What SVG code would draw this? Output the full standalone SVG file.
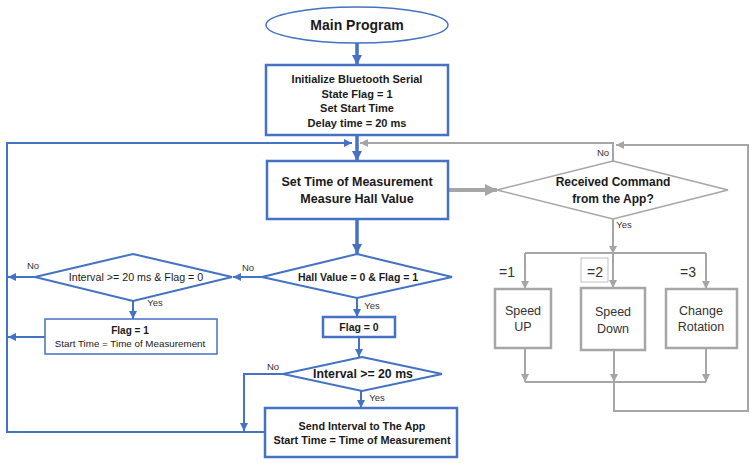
<svg xmlns="http://www.w3.org/2000/svg" width="750" height="463" viewBox="0 0 750 463">
<defs>
<marker id="bh" markerUnits="userSpaceOnUse" markerWidth="10" markerHeight="10" refX="10" refY="5" orient="auto"><path d="M0,0 L10,5 L0,10 z" fill="#4472C4"/></marker>
<marker id="bhs" markerUnits="userSpaceOnUse" markerWidth="8" markerHeight="8" refX="8" refY="4" orient="auto"><path d="M0,0 L8,4 L0,8 z" fill="#4472C4"/></marker>
<marker id="gh" markerUnits="userSpaceOnUse" markerWidth="8" markerHeight="8" refX="8" refY="4" orient="auto"><path d="M0,0 L8,4 L0,8 z" fill="#A6A6A6"/></marker>
<marker id="ghb" markerUnits="userSpaceOnUse" markerWidth="12" markerHeight="12" refX="12" refY="6" orient="auto"><path d="M0,0 L12,6 L0,12 z" fill="#A6A6A6"/></marker>
</defs>
<style>
text{font-family:"Liberation Sans",Arial,sans-serif;fill:#1a1a1a;text-anchor:middle}
.b{font-weight:bold}
.bn{fill:#fff;stroke:#4472C4;stroke-width:2.5}
.bt{fill:#fff;stroke:#4472C4;stroke-width:1.5}
.gn{fill:#fff;stroke:#A6A6A6;stroke-width:2.5}
.bl{fill:none;stroke:#4472C4;stroke-width:2}
.blt{fill:none;stroke:#4472C4;stroke-width:3.5}
.gl{fill:none;stroke:#A6A6A6;stroke-width:2}
.lbl{font-size:9.5px;fill:#333}
.gt{fill:#333}
</style>
<g id="connectors">
<line class="blt" x1="357" y1="43" x2="357" y2="65" marker-end="url(#bh)"/>
<line class="blt" x1="357" y1="135" x2="357" y2="161" marker-end="url(#bh)"/>
<line class="blt" x1="357" y1="219" x2="357" y2="254" marker-end="url(#bh)"/>
<line class="bl" x1="357" y1="298" x2="357" y2="317" marker-end="url(#bhs)"/>
<line class="bl" x1="359" y1="337" x2="359" y2="357" marker-end="url(#bhs)"/>
<line class="bl" x1="361" y1="391" x2="361" y2="408" marker-end="url(#bhs)"/>
<polyline class="bl" points="265,432 7,432 7,143 352,143" marker-end="url(#bhs)"/>
<line class="bl" x1="262" y1="277" x2="233" y2="277" marker-end="url(#bhs)"/>
<line class="bl" x1="36" y1="277" x2="8" y2="277" marker-end="url(#bhs)"/>
<line class="bl" x1="133" y1="301" x2="133" y2="319" marker-end="url(#bhs)"/>
<line class="bl" x1="45" y1="337" x2="8" y2="337" marker-end="url(#bhs)"/>
<polyline class="bl" points="283,374 244,374 244,431" marker-end="url(#bhs)"/>
<line x1="448" y1="190" x2="497" y2="190" stroke="#A6A6A6" stroke-width="4" marker-end="url(#ghb)"/>
<polyline class="gl" points="613,161 613,143 360,143" marker-end="url(#gh)"/>
<polyline class="gl" points="614,382 614,411 748,411 748,145 616,145" marker-end="url(#gh)"/>
<line class="gl" x1="613" y1="219" x2="613" y2="254" marker-end="url(#gh)"/>
<line class="gl" x1="525" y1="253" x2="706" y2="253"/>
<line class="gl" x1="525" y1="253" x2="525" y2="289" marker-end="url(#gh)"/>
<line class="gl" x1="613" y1="253" x2="613" y2="288" marker-end="url(#gh)"/>
<line class="gl" x1="706" y1="253" x2="706" y2="289" marker-end="url(#gh)"/>
<line class="gl" x1="525" y1="348" x2="525" y2="382" marker-end="url(#gh)"/>
<line class="gl" x1="614" y1="350" x2="614" y2="382" marker-end="url(#gh)"/>
<line class="gl" x1="706" y1="348" x2="706" y2="382" marker-end="url(#gh)"/>
<line class="gl" x1="525" y1="382" x2="706" y2="382"/>
<text class="lbl" x="248" y="271">No</text>
<text class="lbl" x="372" y="309">Yes</text>
<text class="lbl" x="33" y="269">No</text>
<text class="lbl" x="155" y="306">Yes</text>
<text class="lbl" x="273" y="370">No</text>
<text class="lbl" x="377" y="401">Yes</text>
<text class="lbl" x="603" y="156">No</text>
<text class="lbl" x="624" y="228">Yes</text>
<text class="gt" x="507" y="277" style="font-size:14px">=1</text>
<rect x="581" y="258" width="27" height="24" fill="none" stroke="#BFBFBF" stroke-width="1"/>
<text class="gt" x="595" y="277" style="font-size:14px">=2</text>
<text class="gt" x="688" y="277" style="font-size:14px">=3</text>
</g>
<g id="main">
<ellipse cx="357" cy="25" rx="91" ry="18" fill="#fff" stroke="#4472C4" stroke-width="1.5"/>
<text class="b" x="357" y="30" style="font-size:14px">Main Program</text>
</g>
<g id="init">
<rect class="bn" x="266" y="65" width="182" height="70"/>
<text class="b" x="357" y="83" style="font-size:11px">Initialize Bluetooth Serial</text>
<text class="b" x="357" y="98" style="font-size:11px">State Flag = 1</text>
<text class="b" x="357" y="112" style="font-size:11px">Set Start Time</text>
<text class="b" x="357" y="127" style="font-size:11px">Delay time = 20 ms</text>
</g>
<g id="settime">
<rect class="bn" x="267" y="161" width="181" height="58"/>
<text class="b" x="357" y="186" style="font-size:12.5px">Set Time of Measurement</text>
<text class="b" x="357" y="203" style="font-size:12.5px">Measure Hall Value</text>
</g>
<g id="hall">
<polygon class="bl" points="357,254 452,277 357,298 262,277" fill="#fff"/>
<text class="b" x="358" y="281" style="font-size:10.5px">Hall Value = 0 &amp; Flag = 1</text>
</g>
<g id="interval-flag">
<polygon class="bl" points="133,254 232,277 133,301 35,277" fill="#fff"/>
<text x="136" y="281" style="font-size:10.7px">Interval &gt;= 20 ms &amp; Flag = 0</text>
</g>
<g id="flag1">
<rect class="bt" x="45" y="319" width="172" height="35"/>
<text class="b" x="130" y="334" style="font-size:10px">Flag = 1</text>
<text x="130" y="347" style="font-size:9.8px">Start Time = Time of Measurement</text>
</g>
<g id="flag0">
<rect class="bn" x="323" y="317" width="72" height="20"/>
<text class="b" x="359" y="331" style="font-size:10.5px">Flag = 0</text>
</g>
<g id="interval">
<polygon class="bl" points="362,357 442,374 362,391 283,374" fill="#fff"/>
<text class="b" x="363" y="378" style="font-size:12.3px">Interval &gt;= 20 ms</text>
</g>
<g id="send">
<rect class="bn" x="265" y="408" width="192" height="49"/>
<text class="b" x="362" y="430" style="font-size:10.8px">Send Interval to The App</text>
<text class="b" x="362" y="444" style="font-size:10.9px">Start Time = Time of Measurement</text>
</g>
<g id="received">
<polygon points="613,161 728,190 613,219 497,190" fill="#fff" stroke="#A6A6A6" stroke-width="1.5"/>
<text class="b" x="613" y="186" style="font-size:12px">Received Command</text>
<text class="b" x="613" y="203" style="font-size:12px">from the App?</text>
</g>
<g id="speedup">
<rect class="gn" x="495" y="289" width="56" height="59"/>
<text class="gt" x="523" y="315" style="font-size:12.5px">Speed</text>
<text class="gt" x="523" y="331" style="font-size:12.5px">UP</text>
</g>
<g id="speeddown">
<rect class="gn" x="581" y="288" width="64" height="62"/>
<text class="gt" x="613" y="316" style="font-size:12.5px">Speed</text>
<text class="gt" x="613" y="333" style="font-size:12.5px">Down</text>
</g>
<g id="rotation">
<rect class="gn" x="666" y="289" width="71" height="59"/>
<text class="gt" x="701" y="315" style="font-size:12.5px">Change</text>
<text class="gt" x="701" y="331" style="font-size:12.5px">Rotation</text>
</g>
</svg>
